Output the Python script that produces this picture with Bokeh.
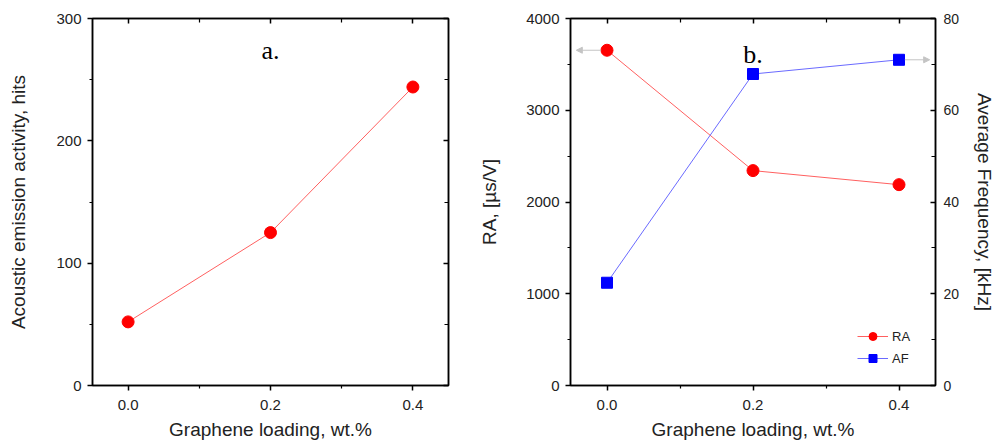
from bokeh.plotting import figure
from bokeh.layouts import row
from bokeh.models import (Range1d, LinearAxis, FixedTicker, PrintfTickFormatter,
                          Arrow, NormalHead, Label, Legend, LegendItem,
                          CustomLabelingPolicy)
from bokeh.embed import file_html
from bokeh.resources import INLINE

# ---- data ----
loading = [0.0, 0.2, 0.4]
ae_hits = [52, 125, 244]
ra_vals = [3654, 2342, 2189]
af_vals = [22.4, 67.9, 71.0]

x_ticks = [0.0, 0.2, 0.4]
x_minor = [0.1, 0.3]
a_yticks = [0, 100, 200, 300]
a_yminor = [50, 150, 250]
ra_ticks = [0, 1000, 2000, 3000, 4000]
ra_minor = [500, 1500, 2500, 3500]
af_ticks = [0, 20, 40, 60, 80]
af_minor = [10, 30, 50, 70]

SANS = "Liberation Sans"
SERIF = "Liberation Serif"
RED = "#ff0000"
BLUE = "#0000ff"
RED_LINE = "#ff6060"
BLUE_LINE = "#6a6aff"
GRAY = "#c4c4c4"

NO_LABELS = """
const out = indices.clone();
for (const i of Array.from(indices.ones())) { out.unset(i); }
return out;
"""


def style_axis(ax, inward=False, labels=True):
    ax.axis_line_color = "black"
    ax.axis_line_width = 1.5
    ax.major_tick_line_color = "black"
    ax.major_tick_line_width = 1.5
    ax.minor_tick_line_color = "black"
    ax.minor_tick_line_width = 1.2
    if inward:
        ax.major_tick_in = 5
        ax.major_tick_out = 0
        ax.minor_tick_in = 4
        ax.minor_tick_out = 0
    else:
        ax.major_tick_in = 0
        ax.major_tick_out = 5
        ax.minor_tick_in = 0
        ax.minor_tick_out = 3
    ax.major_label_text_font = SANS
    ax.major_label_text_font_size = "15px"
    ax.major_label_text_color = "#222222"
    ax.major_label_standoff = 6
    if not labels:
        ax.major_label_policy = CustomLabelingPolicy(code=NO_LABELS)
        ax.major_label_standoff = 0
    ax.axis_label_text_font = SANS
    ax.axis_label_text_font_size = "19px"
    ax.axis_label_text_font_style = "normal"
    ax.axis_label_text_color = "#222222"


def base_fig(width, height, yrange, bl, br, bt):
    p = figure(width=width, height=height, x_range=Range1d(-0.05, 0.45),
               y_range=yrange, output_backend="svg", toolbar_location=None,
               min_border_left=bl, min_border_right=br, min_border_top=bt,
               min_border_bottom=40)
    p.grid.visible = False
    p.outline_line_color = "black"
    p.outline_line_width = 1.5
    p.background_fill_color = "white"
    p.border_fill_color = "white"
    return p


H = 442

# ---------------- panel a ----------------
pa = base_fig(476, H, Range1d(0, 300), 92, 20, 18)
pa.xaxis.ticker = FixedTicker(ticks=x_ticks, minor_ticks=x_minor)
pa.xaxis.formatter = PrintfTickFormatter(format="%.1f")
pa.yaxis.ticker = FixedTicker(ticks=a_yticks, minor_ticks=a_yminor)
pa.xaxis.axis_label = "Graphene loading, wt.%"
pa.yaxis.axis_label = "Acoustic emission activity, hits"
style_axis(pa.xaxis[0])
style_axis(pa.yaxis[0])
pa.xaxis.major_label_standoff = 9
pa.xaxis.axis_label_standoff = 6
pa.yaxis.axis_label_standoff = 24

ta = LinearAxis(ticker=FixedTicker(ticks=x_ticks, minor_ticks=x_minor))
style_axis(ta, inward=True, labels=False)
pa.add_layout(ta, "above")
ra_ax = LinearAxis(ticker=FixedTicker(ticks=a_yticks, minor_ticks=a_yminor))
style_axis(ra_ax, inward=True, labels=False)
pa.add_layout(ra_ax, "right")

pa.line(loading, ae_hits, line_color=RED_LINE, line_width=1)
pa.scatter(loading, ae_hits, marker="circle", size=12, fill_color=RED,
           line_color=RED)
pa.add_layout(Label(x=0.2, y=273.7, text="a.", text_font=SERIF,
                    text_font_size="26px", text_align="center",
                    text_baseline="alphabetic", text_color="black"))

# ---------------- panel b ----------------
pb = base_fig(523, H, Range1d(0, 4000), 94, 64, 18)
pb.extra_y_ranges = {"af": Range1d(0, 80)}
pb.xaxis.ticker = FixedTicker(ticks=x_ticks, minor_ticks=x_minor)
pb.xaxis.formatter = PrintfTickFormatter(format="%.1f")
pb.yaxis.ticker = FixedTicker(ticks=ra_ticks, minor_ticks=ra_minor)
pb.xaxis.axis_label = "Graphene loading, wt.%"
pb.yaxis.axis_label = "RA, [µs/V]"
style_axis(pb.xaxis[0])
style_axis(pb.yaxis[0])
pb.xaxis.major_label_standoff = 9
pb.xaxis.axis_label_standoff = 6
pb.yaxis.axis_label_standoff = 23

tb = LinearAxis(ticker=FixedTicker(ticks=x_ticks, minor_ticks=x_minor))
style_axis(tb, inward=True, labels=False)
pb.add_layout(tb, "above")
af_ax = LinearAxis(y_range_name="af",
                   ticker=FixedTicker(ticks=af_ticks, minor_ticks=af_minor),
                   axis_label="Average Frequency, [kHz]")
style_axis(af_ax, inward=True, labels=True)
af_ax.major_label_text_font_size = "14px"
af_ax.major_label_standoff = 8
af_ax.axis_label_standoff = 12
pb.add_layout(af_ax, "right")

l_ra = pb.line(loading, ra_vals, line_color=RED_LINE, line_width=1)
s_ra = pb.scatter(loading, ra_vals, marker="circle", size=12,
                  fill_color=RED, line_color=RED)
l_af = pb.line(loading, af_vals, line_color=BLUE_LINE, line_width=1,
               y_range_name="af")
s_af = pb.scatter(loading, af_vals, marker="square", size=11,
                  fill_color=BLUE, line_color=BLUE, y_range_name="af")

# arrows pointing to the relevant axes
pb.add_layout(Arrow(end=NormalHead(size=6, fill_color=GRAY, line_color=GRAY),
                    x_start=loading[0] - 0.008, y_start=ra_vals[0],
                    x_end=-0.042, y_end=ra_vals[0],
                    line_color=GRAY, line_width=1))
pb.add_layout(Arrow(end=NormalHead(size=6, fill_color=GRAY, line_color=GRAY),
                    x_start=loading[2] + 0.008, y_start=af_vals[2],
                    x_end=0.442, y_end=af_vals[2],
                    line_color=GRAY, line_width=1, y_range_name="af"))

pb.add_layout(Label(x=0.2, y=3607, text="b.", text_font=SERIF,
                    text_font_size="26px", text_align="center",
                    text_baseline="alphabetic", text_color="black"))

legend = Legend(items=[LegendItem(label="RA", renderers=[l_ra, s_ra]),
                       LegendItem(label="AF", renderers=[l_af, s_af])],
                location=(287, 17))
legend.background_fill_alpha = 0
legend.border_line_alpha = 0
legend.padding = 0
legend.margin = 0
legend.spacing = 2
legend.glyph_width = 31
legend.glyph_height = 20
legend.label_height = 20
legend.label_standoff = 4
legend.label_text_font = SANS
legend.label_text_font_size = "13px"
legend.label_text_color = "#222222"
pb.add_layout(legend)

layout = row(pa, pb)
open("out.html", "w").write(file_html(layout, INLINE))
